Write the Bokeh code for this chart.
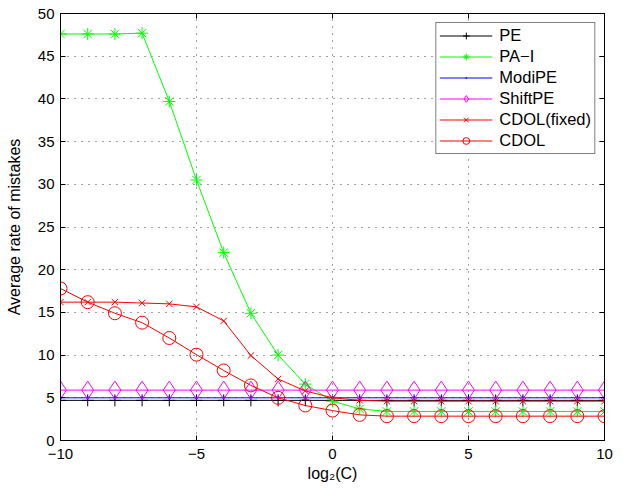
from bokeh.plotting import figure
from bokeh.models import LinearAxis, Range1d, FixedTicker, Legend
from bokeh.embed import file_html
from bokeh.resources import INLINE

x = list(range(-10, 11))
pe = [4.7] * 21
pa_i = [47.6, 47.6, 47.6, 47.7, 39.7, 30.5, 22.0, 14.9, 10.0, 6.6, 4.6, 3.7,
        3.4, 3.4, 3.4, 3.4, 3.4, 3.4, 3.4, 3.4, 3.4]
modipe = [5.0] * 21
shiftpe = [5.9] * 21
cdol_fixed = [16.2, 16.2, 16.2, 16.1, 16.0, 15.65, 14.0, 9.95, 7.2, 5.8, 5.0, 4.7,
              4.6, 4.6, 4.6, 4.6, 4.6, 4.6, 4.6, 4.6, 4.6]
cdol = [17.8, 16.2, 14.9, 13.8, 12.0, 10.05, 8.2, 6.45, 5.0, 4.1, 3.5, 3.0,
        2.85, 2.85, 2.85, 2.85, 2.85, 2.85, 2.85, 2.85, 2.85]

xticks = [-10, -5, 0, 5, 10]
yticks = [0, 5, 10, 15, 20, 25, 30, 35, 40, 45, 50]

FONT = "Liberation Sans"

p = figure(width=617, height=484, output_backend="svg", toolbar_location=None,
           x_range=Range1d(-10, 10), y_range=Range1d(0, 50),
           min_border_left=60, min_border_right=13, min_border_top=13,
           min_border_bottom=42)
p.outline_line_color = "black"
p.outline_line_width = 1

for ax in (p.xaxis[0], p.yaxis[0]):
    ax.major_tick_in = 5
    ax.major_tick_out = 0
    ax.minor_tick_in = 0
    ax.minor_tick_out = 0
    ax.major_label_text_font = FONT
    ax.major_label_text_font_size = "15px"
    ax.major_label_text_color = "black"
    ax.axis_label_text_font = FONT
    ax.axis_label_text_font_size = "16px"
    ax.axis_label_text_font_style = "normal"
    ax.axis_label_text_color = "black"
    ax.axis_line_color = "black"
    ax.major_tick_line_color = "black"

p.xaxis[0].ticker = FixedTicker(ticks=xticks)
p.yaxis[0].ticker = FixedTicker(ticks=yticks)
p.xaxis[0].major_label_overrides = {-10: "\u221210", -5: "\u22125"}
p.xaxis[0].axis_label = "log\u2082(C)"
p.yaxis[0].axis_label = "Average rate of mistakes"
p.xaxis[0].major_label_standoff = 8
p.xaxis[0].axis_label_standoff = 3
p.yaxis[0].major_label_standoff = 6
p.yaxis[0].axis_label_standoff = 12

top = LinearAxis(ticker=FixedTicker(ticks=xticks), major_tick_in=5, major_tick_out=0,
                 minor_tick_in=0, minor_tick_out=0, major_label_text_font_size="1px",
                 major_label_text_color=None, major_label_standoff=0,
                 axis_line_color="black")
right = LinearAxis(ticker=FixedTicker(ticks=yticks), major_tick_in=5, major_tick_out=0,
                   minor_tick_in=0, minor_tick_out=0, major_label_text_font_size="1px",
                   major_label_text_color=None, major_label_standoff=0,
                   axis_line_color="black")
p.add_layout(top, "above")
p.add_layout(right, "right")

p.xgrid.ticker = FixedTicker(ticks=xticks)
p.ygrid.ticker = FixedTicker(ticks=yticks)
for g in (p.xgrid, p.ygrid):
    g.grid_line_color = "#444444"
    g.grid_line_dash = "1 6"
    g.grid_line_width = 1

series = [
    ("PE", pe, "black", "cross", 12),
    ("PA\u2212I", pa_i, "#00ff00", "asterisk", 12),
    ("ModiPE", modipe, "blue", "dot", 12),
    ("ShiftPE", shiftpe, "magenta", "diamond", 18),
    ("CDOL(fixed)", cdol_fixed, "red", "x", 9),
    ("CDOL", cdol, "red", "circle", 13),
]

items = []
for name, ys, col, mk, sz in series:
    r1 = p.line(x, ys, line_color=col, line_width=1)
    if mk == "dot":
        r2 = p.scatter(x, ys, marker="dot", size=sz, fill_color=col, line_color=col,
                       line_width=1)
    else:
        r2 = p.scatter(x, ys, marker=mk, size=sz, line_color=col, fill_color=None,
                       line_width=1)
    items.append((name, [r1, r2]))

legend = Legend(items=items, location="top_right")
legend.label_text_font = FONT
legend.label_text_font_size = "16.5px"
legend.label_text_color = "black"
legend.glyph_width = 53
legend.glyph_height = 17
legend.label_height = 17
legend.spacing = 2
legend.padding = 3
legend.margin = 9
legend.label_standoff = 7
legend.border_line_color = "black"
legend.border_line_width = 1
legend.background_fill_color = "white"
legend.background_fill_alpha = 1
p.add_layout(legend)

open("out.html", "w").write(file_html(p, INLINE))
